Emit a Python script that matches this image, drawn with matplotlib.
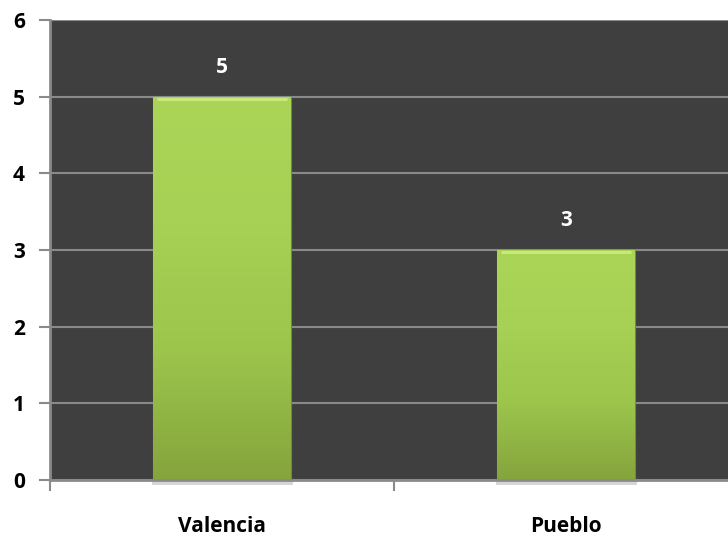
import matplotlib
matplotlib.use("Agg")
import matplotlib.pyplot as plt
from matplotlib.colors import LinearSegmentedColormap
from matplotlib.patches import Rectangle
import numpy as np

categories = ["Valencia", "Pueblo"]
values = [5, 3]
y_ticks = [0, 1, 2, 3, 4, 5, 6]

plt.rcParams['font.family'] = ['Open Sans', 'DejaVu Sans']

fig = plt.figure(figsize=(7.28, 5.36), dpi=100)
ax = fig.add_axes([50 / 728, 56 / 536, 678 / 728, 460 / 536])
ax.set_facecolor("#3f3f3f")

x = np.arange(len(categories))
bars = ax.bar(x, values, width=0.4, color="#a4cf52", zorder=3,
              edgecolor="#6f8c30", linewidth=0.8)

# vertical gradient on each bar, light at the top, darker at the bottom
grad_cmap = LinearSegmentedColormap.from_list(
    "bar", ["#85a43d", "#9cc54c", "#a6d154", "#aad557"])
grad = np.linspace(0, 1, 256).reshape(-1, 1)
for b in bars:
    x0, w, h = b.get_x(), b.get_width(), b.get_height()
    im = ax.imshow(grad, cmap=grad_cmap, origin="lower", aspect="auto",
                   extent=[x0, x0 + w, 0, h], zorder=3.5, interpolation="bicubic")
    im.set_clip_path(b)
    # light bevel line along the top
    ax.plot([x0 + 0.01, x0 + w - 0.01], [h - 0.03, h - 0.03], color="#c8ec7a",
            lw=2, zorder=4, solid_capstyle="butt")
    # soft shadow under the bar
    ax.add_patch(Rectangle((x0 - 0.005, -0.06), w + 0.01, 0.06, color="#d6d6d6",
                           zorder=2, clip_on=False, lw=0))

for xi, v in zip(x, values):
    ax.text(xi, v + 0.38, str(v), ha="center", va="center", color="white",
            fontsize=15, fontweight="bold", zorder=5)

ax.set_ylim(0, 6)
ax.set_xlim(-0.5, 1.5 - 10 / 339)
ax.set_yticks(y_ticks)
ax.set_yticklabels([str(t) for t in y_ticks], fontsize=15, fontweight="bold")
ax.yaxis.grid(True, color="#8a8a8a", lw=1.5, zorder=1)
ax.set_axisbelow(True)

ax.set_xticks([-0.5, 0.5])
ax.set_xticklabels([])
ax.tick_params(axis="x", length=8, width=1.5, color="#8a8a8a")
ax.tick_params(axis="y", length=8, width=1.5, color="#8a8a8a", pad=10)
for xi, c in zip(x, categories):
    ax.text(xi, -0.6, c, ha="center", va="center", fontsize=15,
            fontweight="bold", clip_on=False)

for s in ["top", "right"]:
    ax.spines[s].set_visible(False)
for s in ["left", "bottom"]:
    ax.spines[s].set_color("#8a8a8a")
    ax.spines[s].set_linewidth(2)
ax.spines["bottom"].set_zorder(4)

fig.savefig("out.png", dpi=100)
